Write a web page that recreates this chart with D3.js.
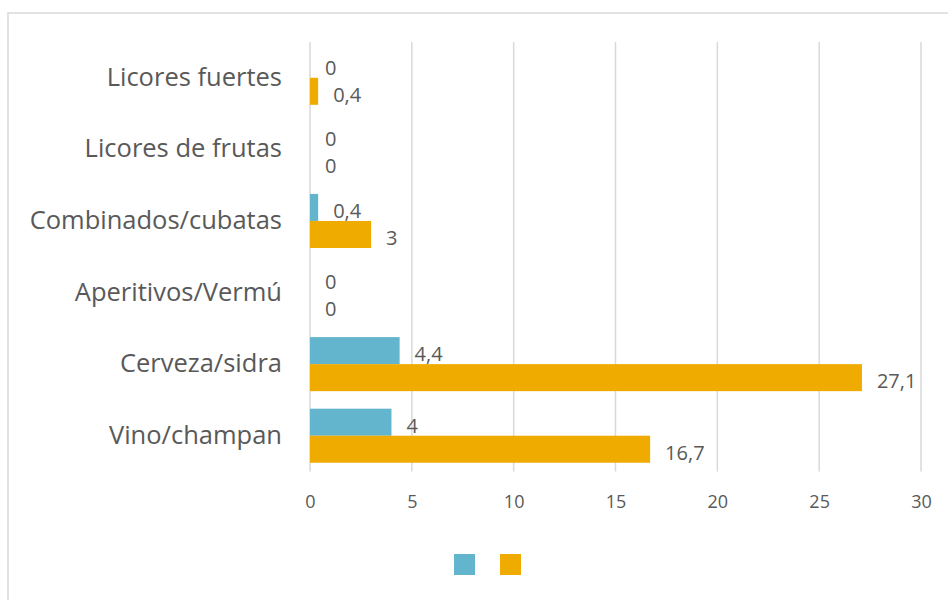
<!DOCTYPE html>
<html>
<head>
<meta charset="utf-8">
<script src="https://cdn.jsdelivr.net/npm/d3@7"></script>
<style>
  body { margin: 0; background: #fff; }
  text { font-family: "Open Sans", Lato, sans-serif; fill: #595959; }
</style>
</head>
<body>
<div id="chart"></div>
<script>
const categories = ['Licores fuertes', 'Licores de frutas', 'Combinados/cubatas', 'Aperitivos/Vermú', 'Cerveza/sidra', 'Vino/champan']
const seriesBlue   = [0, 0, 0.4, 0, 4.4, 4]
const seriesOrange = [0.4, 0, 3, 0, 27.1, 16.7]
const xTicks = [0, 5, 10, 15, 20, 25, 30]
const colors = ['#62B5CC', '#F0AB00']

const W = 948, H = 600
const MARGIN = { top: 42, right: 27, bottom: 128.5, left: 310 }
const iw = W - MARGIN.left - MARGIN.right
const ih = H - MARGIN.top - MARGIN.bottom

const fmt = v => String(v).replace('.', ',')

const svg = d3.select('#chart').append('svg')
  .attr('width', W).attr('height', H)

// outer frame
svg.append('rect')
  .attr('x', 8).attr('y', 13).attr('width', W).attr('height', H)
  .attr('fill', 'none').attr('stroke', '#d9d9d9').attr('stroke-width', 1.5)

const g = svg.append('g').attr('transform', `translate(${MARGIN.left},${MARGIN.top})`)

const x = d3.scaleLinear().domain([0, 30]).range([0, iw])
const y = d3.scaleBand().domain(categories).range([0, ih]).paddingInner(0.245).paddingOuter(0.1225)
const sub = d3.scaleBand().domain([0, 1]).range([0, y.bandwidth()])

// grid
g.append('g').selectAll('line').data(xTicks).join('line')
  .attr('x1', d => x(d)).attr('x2', d => x(d))
  .attr('y1', 0).attr('y2', ih)
  .attr('stroke', '#d9d9d9').attr('stroke-width', 1.5)

// x axis labels
const xAxis = g.append('g').attr('transform', `translate(0,${ih})`)
  .call(d3.axisBottom(x).tickValues(xTicks).tickSize(0).tickPadding(24))
xAxis.select('.domain').remove()
xAxis.selectAll('text').style('font-size', '18px').style('font-family', '"Open Sans", sans-serif').attr('fill', '#595959')

// category labels
g.append('g').selectAll('text').data(categories).join('text')
  .attr('x', -28).attr('y', d => y(d) + y.bandwidth() / 2)
  .attr('dy', '0.05em')
  .attr('text-anchor', 'end').attr('dominant-baseline', 'middle')
  .style('font-size', '25.5px').text(d => d)

// bars
const series = [seriesBlue, seriesOrange]
series.forEach((vals, si) => {
  const rows = categories.map((c, i) => ({ c, v: vals[i] }))
  g.append('g').selectAll('rect').data(rows).join('rect')
    .attr('x', x(0))
    .attr('y', d => y(d.c) + sub(si))
    .attr('width', d => x(d.v) - x(0))
    .attr('height', sub.bandwidth())
    .attr('fill', colors[si])
  g.append('g').selectAll('text').data(rows).join('text')
    .attr('x', d => x(d.v) + 15)
    .attr('y', d => y(d.c) + sub(si) + sub.bandwidth() / 2 + 5)
    .attr('dominant-baseline', 'middle')
    .style('font-size', '20px')
    .text(d => fmt(d.v))
})

// legend (series without names)
const legend = svg.append('g').attr('transform', 'translate(454,554)')
colors.forEach((c, i) => {
  legend.append('rect').attr('x', i * 46).attr('y', 0)
    .attr('width', 21).attr('height', 21).attr('fill', c)
})
</script>
</body>
</html>
